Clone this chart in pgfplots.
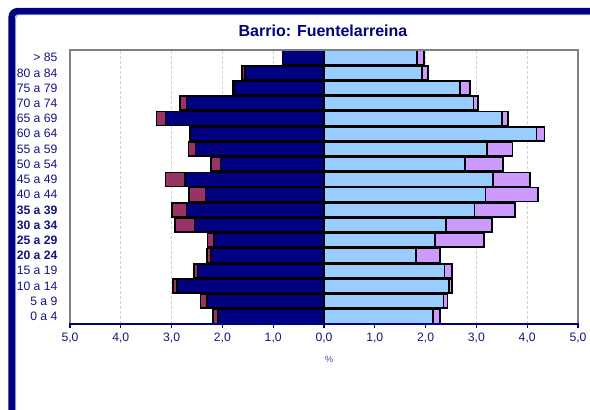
\documentclass[border=0pt]{standalone}
\usepackage{fontspec}
\setmainfont{Liberation Sans}
\usepackage{pgfplots}
\usepackage{pgfplotstable}
\pgfplotsset{compat=1.18}
\definecolor{navy}{RGB}{0,0,128}
\definecolor{txtnavy}{RGB}{20,20,130}
\definecolor{maroonx}{RGB}{153,51,102}
\definecolor{lblue}{RGB}{153,204,255}
\definecolor{lav}{RGB}{204,153,255}
\definecolor{framelav}{RGB}{170,170,225}

% idx: 0 = "0 a 4" ... 17 = "> 85"
% hesp/hext: men (Spanish / foreign), mesp/mext: women (Spanish / foreign), in %
\pgfplotstableread{
idx hesp  hext  mesp  mext
0   -2.09 -0.10 2.15 0.13
1   -2.30 -0.13 2.35 0.08
2   -2.89 -0.08 2.46 0.06
3   -2.49 -0.07 2.37 0.15
4   -2.22 -0.08 1.81 0.47
5   -2.16 -0.13 2.19 0.96
6   -2.55 -0.38 2.40 0.91
7   -2.71 -0.28 2.96 0.80
8   -2.33 -0.33 3.18 1.03
9   -2.74 -0.38 3.33 0.73
10  -2.04 -0.19 2.77 0.75
11  -2.53 -0.14 3.21 0.50
12  -2.64 -0.00 4.18 0.16
13  -3.12 -0.18 3.50 0.12
14  -2.71 -0.12 2.94 0.09
15  -1.77 -0.03 2.68 0.19
16  -1.56 -0.06 1.93 0.12
17  -0.82 -0.00 1.83 0.14
}\pyr

\pgfplotsset{
  pyrbase/.style={
    at={(70pt,86pt)}, anchor=south west,
    scale only axis, width=508pt, height=274pt,
    xmin=-5, xmax=5, ymin=-0.5, ymax=17.5,
    xbar stacked, bar width=14pt,
    every axis plot/.append style={draw=black, line width=1.6pt},
  }
}

\begin{document}
\begin{tikzpicture}[x=1pt,y=1pt]
\path[use as bounding box] (0,0) rectangle (590,410);
% outer frame
\draw[framelav, line width=0.9pt, rounded corners=4pt] (15.6,-5) -- (15.6,395.3) -- (600,395.3);
\draw[navy, line width=6.6pt, rounded corners=6pt] (11.7,-5) -- (11.7,398.8) -- (600,398.8);

\begin{axis}[pyrbase,
  axis line style={draw=none},
  xtick={-5,-4,...,5},
  xticklabels={{5,0},{4,0},{3,0},{2,0},{1,0},{0,0},{1,0},{2,0},{3,0},{4,0},{5,0}},
  xtick pos=bottom, tick align=outside, major tick length=4pt,
  xtick style={navy, line width=1.2pt},
  xmajorgrids, grid style={gray!35, densely dashed, line width=0.6pt},
  ytick={0,...,17},
  yticklabels={0 a 4,5 a 9,10 a 14,15 a 19,\textbf{20 a 24},\textbf{25 a 29},\textbf{30 a 34},\textbf{35 a 39},40 a 44,45 a 49,50 a 54,55 a 59,60 a 64,65 a 69,70 a 74,75 a 79,80 a 84,> 85},
  ytick style={draw=none},
  yticklabel style={font=\fontsize{12.2}{13}\selectfont, text=txtnavy, xshift=-5pt},
  xticklabel style={font=\fontsize{12.2}{13}\selectfont, text=txtnavy, yshift=-1pt},
]
\addplot[fill=navy] table[x=hesp, y=idx] {\pyr};
\addplot[fill=maroonx] table[x=hext, y=idx] {\pyr};
\end{axis}

\begin{axis}[pyrbase, hide axis]
\addplot[fill=lblue] table[x=mesp, y=idx] {\pyr};
\addplot[fill=lav] table[x=mext, y=idx] {\pyr};
\end{axis}

% plot frame
\draw[gray, line width=1.4pt] (70,86) -- (70,360) -- (578,360) -- (578,86);
\draw[navy, line width=1.8pt] (69.3,86) -- (578.7,86);

\node[font=\fontsize{16}{18}\selectfont\bfseries, text=navy] at (323,379) {Barrio: Fuentelarreina};
\node[font=\fontsize{9}{10}\selectfont, text=txtnavy!80] at (329,51) {\%};
\end{tikzpicture}
\end{document}
